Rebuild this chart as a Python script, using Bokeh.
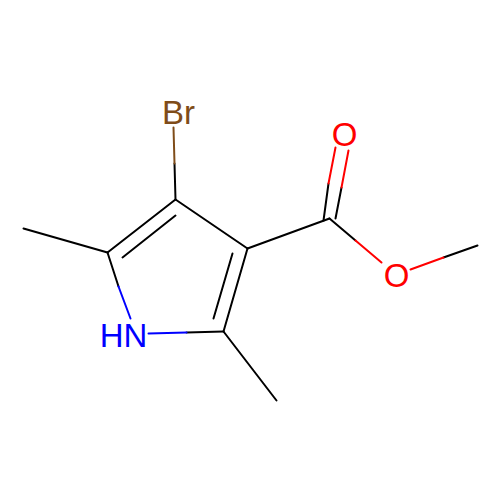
from bokeh.plotting import figure
from bokeh.models import Range1d
from bokeh.core.properties import value
from bokeh.embed import file_html
from bokeh.resources import INLINE

# bond segments, picture coordinates (x0, y0, x1, y1 in reference pixels)
black_x0 = [23, 107, 175, 122, 247, 223, 213, 247, 323, 335, 329, 443, 118, 186, 174]
black_y0 = [228, 252, 199, 257, 248, 331, 318, 248, 220, 218, 218, 257, 286, 332, 163]
black_x1 = [107, 175, 247, 175, 223, 276, 232, 329, 328, 341, 355, 477, 107, 223, 175]
black_y1 = [252, 199, 248, 215, 331, 400, 253, 218, 183, 187, 240, 245, 252, 331, 199]

red_x0 = [328, 341, 355, 410]
red_y0 = [183, 187, 240, 269]
red_x1 = [335, 348, 381, 443]
red_y1 = [147, 150, 262, 257]

blue_x0 = [118, 148]
blue_y0 = [286, 333]
blue_x1 = [130, 186]
blue_y1 = [318, 332]

brown_x0 = [173]
brown_y0 = [127]
brown_x1 = [174]
brown_y1 = [163]

atom_labels = ["Br", "O", "O", "HN"]
atom_x = [178, 344, 396, 123]
atom_y = [112, 134, 275, 335]
atom_colors = ["#7F4C19", "#FF0000", "#FF0000", "#0000FF"]

p = figure(width=500, height=500, output_backend="svg", toolbar_location=None,
           x_range=Range1d(0, 500), y_range=Range1d(500, 0), min_border=0,
           background_fill_color="#FFFFFF", border_fill_color="#FFFFFF")
p.axis.visible = False
p.grid.visible = False
p.outline_line_color = None

p.segment(black_x0, black_y0, black_x1, black_y1, line_color="#000000", line_width=2, line_cap="round")
p.segment(red_x0, red_y0, red_x1, red_y1, line_color="#FF0000", line_width=2, line_cap="round")
p.segment(blue_x0, blue_y0, blue_x1, blue_y1, line_color="#0000FF", line_width=2, line_cap="round")
p.segment(brown_x0, brown_y0, brown_x1, brown_y1, line_color="#7F4C19", line_width=2, line_cap="round")

p.text(atom_x, atom_y, text=atom_labels, text_color=atom_colors,
       text_font=value("Liberation Sans"), text_font_size="33px",
       text_align="center", text_baseline="middle")

open("out.html", "w").write(file_html(p, INLINE))
